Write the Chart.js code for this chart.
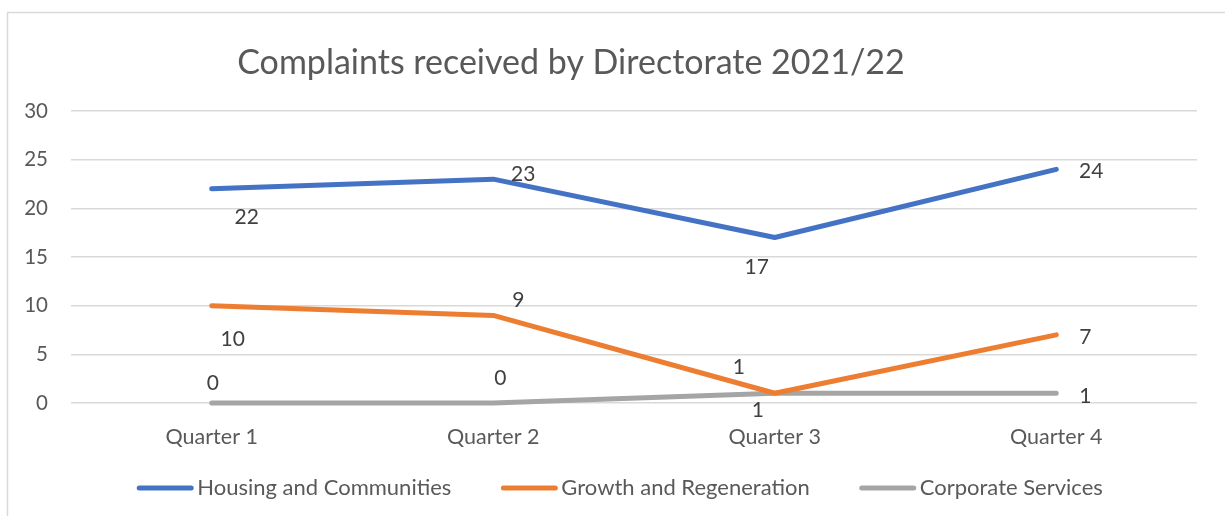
<!DOCTYPE html>
<html>
<head>
<meta charset="utf-8">
<script src="https://cdn.jsdelivr.net/npm/chart.js@4/dist/chart.umd.min.js"></script>
<style>
  html, body { margin: 0; padding: 0; background: #fff; }
  #wrap { width: 1225px; height: 516px; }
</style>
</head>
<body>
<div id="wrap"><canvas id="myChart"></canvas></div>
<script>
const quarters = ['Quarter 1', 'Quarter 2', 'Quarter 3', 'Quarter 4'];
const housing = [22, 23, 17, 24];
const growth = [10, 9, 1, 7];
const corporate = [0, 0, 1, 1];
const seriesNames = ['Housing and Communities', 'Growth and Regeneration', 'Corporate Services'];
const yTicks = [0, 5, 10, 15, 20, 25, 30];

const FONT = 'Lato, "Open Sans", sans-serif';
const colors = ['#4472C4', '#ED7D31', '#A5A5A5'];
// where each value label sits relative to its point (px)
const labelOffsets = [
  [[35, 28], [30, -5], [-18, 30], [35, 2]],
  [[21, 34], [25, -15], [-36, -26], [29, 2]],
  [[1, -20], [7, -25], [-17, 17], [29, 3]]
];

const extras = {
  id: 'extras',
  beforeDraw(chart) {
    const ctx = chart.ctx;
    ctx.save();
    ctx.strokeStyle = '#D9D9D9';
    ctx.lineWidth = 1.5;
    ctx.strokeRect(7.5, 12.5, 1400, 600);
    ctx.restore();
  },
  afterDatasetsDraw(chart) {
    const ctx = chart.ctx;
    ctx.save();
    // value labels
    ctx.font = '21px ' + FONT;
    ctx.fillStyle = '#404040';
    ctx.textAlign = 'center';
    ctx.textBaseline = 'middle';
    chart.data.datasets.forEach((ds, i) => {
      chart.getDatasetMeta(i).data.forEach((pt, j) => {
        const off = labelOffsets[i][j];
        ctx.fillText(String(ds.data[j]), pt.x + off[0], pt.y + off[1]);
      });
    });
    // title
    ctx.font = '34px ' + FONT;
    ctx.fillStyle = '#595959';
    ctx.fillText('Complaints received by Directorate 2021/22', 571, 63);
    // legend
    ctx.font = '22px ' + FONT;
    ctx.textAlign = 'left';
    const lineW = 56, gapText = 4, gapItem = 50;
    const widths = chart.data.datasets.map(ds => lineW + gapText + ctx.measureText(ds.label).width);
    const total = widths.reduce((a, b) => a + b, 0) + gapItem * (widths.length - 1);
    let x = 620 - total / 2;
    const y = 488;
    chart.data.datasets.forEach((ds, i) => {
      ctx.strokeStyle = ds.borderColor;
      ctx.lineWidth = 5;
      ctx.lineCap = 'round';
      ctx.beginPath();
      ctx.moveTo(x + 2, y);
      ctx.lineTo(x + lineW - 2, y);
      ctx.stroke();
      ctx.fillStyle = '#595959';
      ctx.fillText(ds.label, x + lineW + gapText, y);
      x += widths[i] + gapItem;
    });
    ctx.restore();
  }
};

new Chart(document.getElementById('myChart'), {
  type: 'line',
  data: {
    labels: quarters,
    datasets: [housing, growth, corporate].map((vals, i) => ({
      label: seriesNames[i],
      data: vals,
      borderColor: colors[i],
      backgroundColor: colors[i],
      borderWidth: 5,
      borderCapStyle: 'round',
      borderJoinStyle: 'round',
      pointRadius: 0,
      tension: 0,
      clip: 8
    }))
  },
  options: {
    responsive: true,
    maintainAspectRatio: false,
    animation: false,
    layout: { padding: { top: 111, right: 28, left: 0, bottom: 53 } },
    plugins: {
      legend: { display: false },
      title: { display: false },
      tooltip: { enabled: false }
    },
    scales: {
      x: {
        offset: true,
        grid: { display: false, drawTicks: false },
        border: { display: false },
        ticks: { color: '#595959', font: { family: FONT, size: 21.5 }, padding: 21, maxRotation: 0 },
        afterFit: s => { s.height = 60; }
      },
      y: {
        min: 0,
        max: 30,
        afterBuildTicks: s => { s.ticks = yTicks.map(v => ({ value: v })); },
        grid: { color: '#D9D9D9', lineWidth: 1.5, drawTicks: false },
        border: { display: false },
        ticks: { color: '#595959', font: { family: FONT, size: 20.5 }, padding: 23 },
        afterFit: s => { s.width = 71; }
      }
    }
  },
  plugins: [extras]
});
</script>
</body>
</html>
